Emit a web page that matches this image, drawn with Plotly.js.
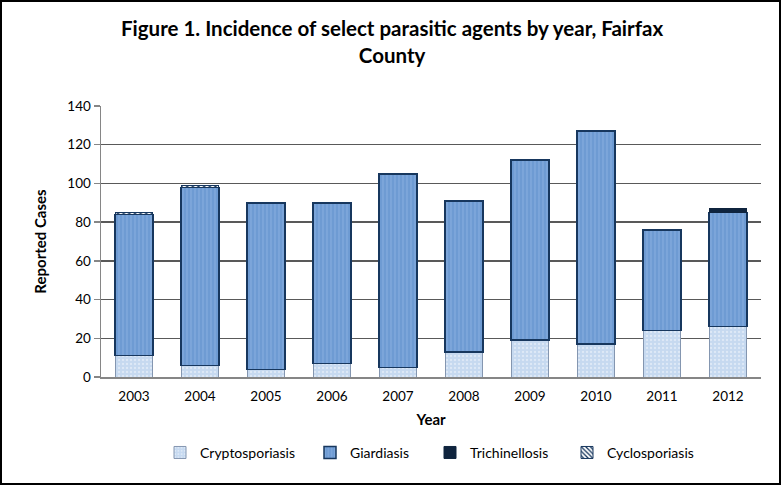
<!DOCTYPE html>
<html>
<head>
<meta charset="utf-8">
<script src="https://cdn.plot.ly/plotly-3.0.1.min.js"></script>
<style>
  html, body { margin: 0; padding: 0; background: #fff; }
  #wrap { position: relative; width: 781px; height: 485px; }
  #plot { width: 781px; height: 485px; }
  #frame { position: absolute; left: 0; top: 0; width: 781px; height: 485px; box-sizing: border-box; border: 2px solid #000; pointer-events: none; }
</style>
</head>
<body>
<div id="wrap"><div id="plot"></div><div id="frame"></div></div>
<script>
const years = ['2003','2004','2005','2006','2007','2008','2009','2010','2011','2012'];
const cryptosporiasis = [11, 6, 4, 7, 5, 13, 19, 17, 24, 26];
const giardiasis      = [73, 92, 86, 83, 100, 78, 93, 110, 52, 59];
const trichinellosis  = [0, 0, 0, 0, 0, 0, 0, 0, 0, 2];
const cyclosporiasis  = [1, 1, 0, 0, 0, 0, 0, 0, 0, 0];
const yTicks = [0, 20, 40, 60, 80, 100, 120, 140];

const nz = a => a.map(v => v === 0 ? null : v);
const FONT = 'Lato, "Open Sans", "DejaVu Sans", sans-serif';

const L = 101, R = 761;
const px = p => (p - L) / (R - L);

const traces = [
  { type: 'bar', name: 'Cryptosporiasis', x: years, y: nz(cryptosporiasis), legend: 'legend',
    marker: { color: '#c6d9f0', line: { color: '#8496b0', width: 1 },
      pattern: { shape: '.', bgcolor: '#c6d9f0', fgcolor: '#e3ecf8', fgopacity: 0.8, size: 4, solidity: 0.25 } } },
  { type: 'bar', name: 'Giardiasis', x: years, y: nz(giardiasis), legend: 'legend2',
    marker: { color: '#6e9bd3', line: { color: '#17375e', width: 1.5 },
      pattern: { shape: '|', bgcolor: '#6e9bd3', fgcolor: '#8db2e2', fgopacity: 0.7, size: 4, solidity: 0.3 } } },
  { type: 'bar', name: 'Trichinellosis', x: years, y: nz(trichinellosis), legend: 'legend3',
    marker: { color: '#0f243e', line: { color: '#0f243e', width: 1 } } },
  { type: 'bar', name: 'Cyclosporiasis', x: years, y: nz(cyclosporiasis), legend: 'legend4',
    marker: { color: '#ffffff', line: { color: '#17375e', width: 1 },
      pattern: { shape: '\\', fgcolor: '#17375e', bgcolor: '#ffffff', size: 4, solidity: 0.4 } } }
];

const legBase = { orientation: 'h', xanchor: 'left', y: -0.28, yanchor: 'middle',
  font: { family: FONT, size: 14 }, itemwidth: 30, bgcolor: 'rgba(0,0,0,0)' };

const layout = {
  width: 781, height: 485,
  margin: { l: L, r: 781 - R, t: 106, b: 108 },
  paper_bgcolor: '#ffffff', plot_bgcolor: '#ffffff',
  barmode: 'stack', bargap: 0.43,
  font: { family: FONT, color: '#000', size: 13 },
  title: {
    text: '<b>Figure 1. Incidence of select parasitic agents by year, Fairfax<br>County</b>',
    font: { family: FONT, size: 20.5, color: '#000' },
    x: 0.502, xanchor: 'center', xref: 'container',
    y: 1 - 36 / 485, yanchor: 'top', yref: 'container'
  },
  xaxis: {
    type: 'category',
    title: { text: '<b>Year</b>', font: { family: FONT, size: 15 }, standoff: 12 },
    showline: true, linecolor: '#868686', linewidth: 1.5,
    ticks: '', tickfont: { family: FONT, size: 13.5 }, ticklabelstandoff: 6,
    showgrid: false, zeroline: false
  },
  yaxis: {
    range: [0, 140], tickvals: yTicks, ticktext: yTicks.map(String),
    title: { text: '<b>Reported Cases</b>', font: { family: FONT, size: 15 }, standoff: 17 },
    showline: true, linecolor: '#868686', linewidth: 1.5,
    ticks: 'outside', ticklen: 6, tickcolor: '#868686', tickwidth: 1.5,
    showgrid: true, gridcolor: '#595959', gridwidth: 1.5,
    zeroline: false, tickfont: { family: FONT, size: 13.5 }
  },
  showlegend: true,
  legend:  Object.assign({}, legBase, { x: px(160) }),
  legend2: Object.assign({}, legBase, { x: px(310) }),
  legend3: Object.assign({}, legBase, { x: px(430) }),
  legend4: Object.assign({}, legBase, { x: px(567) })
};

Plotly.newPlot('plot', traces, layout, { displayModeBar: false, staticPlot: true });
</script>
</body>
</html>
